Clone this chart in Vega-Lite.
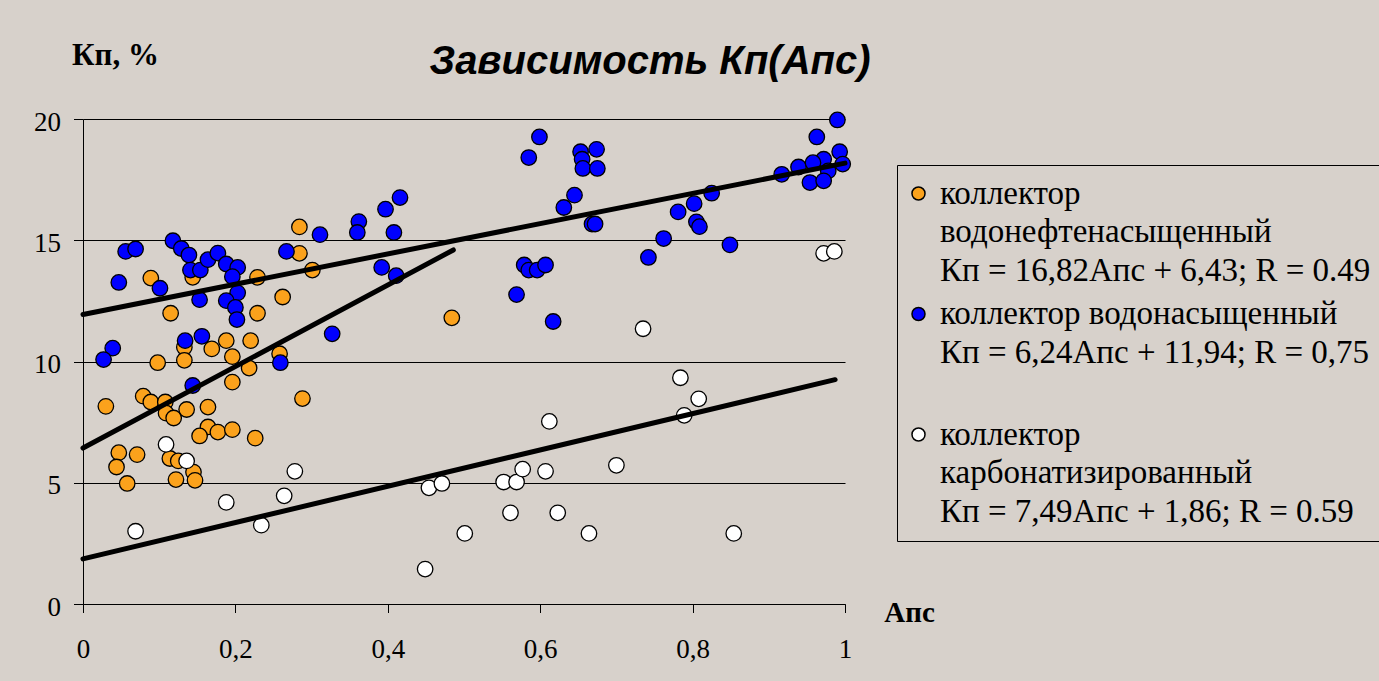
{
  "$schema": "https://vega.github.io/schema/vega-lite/v6.json",
  "width": 762,
  "height": 485,
  "autosize": {"type": "none"},
  "padding": {"left": 83, "top": 119, "right": 534, "bottom": 77},
  "background": "#d7d1cb",
  "title": {
    "text": "Зависимость Кп(Апс)",
    "font": "Liberation Sans",
    "fontSize": 40,
    "fontStyle": "italic",
    "fontWeight": "bold",
    "color": "black",
    "anchor": "middle",
    "frame": "group",
    "dx": 186,
    "dy": 43,
    "offset": 0
  },
  "datasets": {
    "pts": [
      {"t": "o", "x": 0.284, "y": 15.55}, {"t": "o", "x": 0.284, "y": 14.46}, {"t": "o", "x": 0.089, "y": 13.44},
      {"t": "o", "x": 0.144, "y": 13.47}, {"t": "o", "x": 0.229, "y": 13.47}, {"t": "o", "x": 0.301, "y": 13.77},
      {"t": "o", "x": 0.115, "y": 11.99}, {"t": "o", "x": 0.262, "y": 12.66}, {"t": "o", "x": 0.229, "y": 11.99},
      {"t": "o", "x": 0.133, "y": 10.59}, {"t": "o", "x": 0.169, "y": 10.52}, {"t": "o", "x": 0.188, "y": 10.86},
      {"t": "o", "x": 0.22, "y": 10.86}, {"t": "o", "x": 0.258, "y": 10.32}, {"t": "o", "x": 0.196, "y": 10.2},
      {"t": "o", "x": 0.098, "y": 9.95}, {"t": "o", "x": 0.133, "y": 10.05}, {"t": "o", "x": 0.218, "y": 9.73},
      {"t": "o", "x": 0.196, "y": 9.15}, {"t": "o", "x": 0.288, "y": 8.47}, {"t": "o", "x": 0.03, "y": 8.15},
      {"t": "o", "x": 0.079, "y": 8.57}, {"t": "o", "x": 0.089, "y": 8.33}, {"t": "o", "x": 0.108, "y": 8.33},
      {"t": "o", "x": 0.109, "y": 7.87}, {"t": "o", "x": 0.119, "y": 7.67}, {"t": "o", "x": 0.136, "y": 8.02},
      {"t": "o", "x": 0.164, "y": 8.12}, {"t": "o", "x": 0.164, "y": 7.3}, {"t": "o", "x": 0.153, "y": 6.93},
      {"t": "o", "x": 0.177, "y": 7.09}, {"t": "o", "x": 0.196, "y": 7.19}, {"t": "o", "x": 0.226, "y": 6.84},
      {"t": "o", "x": 0.047, "y": 6.24}, {"t": "o", "x": 0.071, "y": 6.16}, {"t": "o", "x": 0.044, "y": 5.65},
      {"t": "o", "x": 0.058, "y": 4.97}, {"t": "o", "x": 0.114, "y": 6.0}, {"t": "o", "x": 0.125, "y": 5.9},
      {"t": "o", "x": 0.145, "y": 5.44}, {"t": "o", "x": 0.122, "y": 5.13}, {"t": "o", "x": 0.147, "y": 5.1},
      {"t": "o", "x": 0.484, "y": 11.8},
      {"t": "b", "x": 0.056, "y": 14.54}, {"t": "b", "x": 0.069, "y": 14.64}, {"t": "b", "x": 0.118, "y": 14.98},
      {"t": "b", "x": 0.129, "y": 14.66}, {"t": "b", "x": 0.139, "y": 14.39}, {"t": "b", "x": 0.141, "y": 13.77},
      {"t": "b", "x": 0.154, "y": 13.77}, {"t": "b", "x": 0.164, "y": 14.2}, {"t": "b", "x": 0.177, "y": 14.47},
      {"t": "b", "x": 0.188, "y": 14.02}, {"t": "b", "x": 0.203, "y": 13.88}, {"t": "b", "x": 0.196, "y": 13.5},
      {"t": "b", "x": 0.203, "y": 12.83}, {"t": "b", "x": 0.188, "y": 12.51}, {"t": "b", "x": 0.2, "y": 12.23},
      {"t": "b", "x": 0.202, "y": 11.73}, {"t": "b", "x": 0.153, "y": 12.55}, {"t": "b", "x": 0.047, "y": 13.26},
      {"t": "b", "x": 0.101, "y": 13.02}, {"t": "b", "x": 0.267, "y": 14.54}, {"t": "b", "x": 0.311, "y": 15.23},
      {"t": "b", "x": 0.327, "y": 11.14}, {"t": "b", "x": 0.134, "y": 10.86}, {"t": "b", "x": 0.156, "y": 11.04},
      {"t": "b", "x": 0.039, "y": 10.55}, {"t": "b", "x": 0.027, "y": 10.08}, {"t": "b", "x": 0.259, "y": 9.95},
      {"t": "b", "x": 0.144, "y": 9.01},
      {"t": "b", "x": 0.362, "y": 15.77}, {"t": "b", "x": 0.36, "y": 15.32}, {"t": "b", "x": 0.397, "y": 16.28},
      {"t": "b", "x": 0.416, "y": 16.76}, {"t": "b", "x": 0.408, "y": 15.32}, {"t": "b", "x": 0.392, "y": 13.88},
      {"t": "b", "x": 0.411, "y": 13.54},
      {"t": "b", "x": 0.599, "y": 19.26}, {"t": "b", "x": 0.585, "y": 18.41}, {"t": "b", "x": 0.653, "y": 18.65},
      {"t": "b", "x": 0.674, "y": 18.75}, {"t": "b", "x": 0.655, "y": 18.34}, {"t": "b", "x": 0.656, "y": 17.96},
      {"t": "b", "x": 0.675, "y": 17.96}, {"t": "b", "x": 0.645, "y": 16.86}, {"t": "b", "x": 0.631, "y": 16.35},
      {"t": "b", "x": 0.668, "y": 15.67}, {"t": "b", "x": 0.672, "y": 15.67}, {"t": "b", "x": 0.579, "y": 13.98},
      {"t": "b", "x": 0.585, "y": 13.77}, {"t": "b", "x": 0.596, "y": 13.77}, {"t": "b", "x": 0.607, "y": 13.98},
      {"t": "b", "x": 0.569, "y": 12.76}, {"t": "b", "x": 0.617, "y": 11.65},
      {"t": "b", "x": 0.742, "y": 14.29}, {"t": "b", "x": 0.762, "y": 15.07}, {"t": "b", "x": 0.781, "y": 16.17},
      {"t": "b", "x": 0.802, "y": 16.51}, {"t": "b", "x": 0.805, "y": 15.76}, {"t": "b", "x": 0.809, "y": 15.56},
      {"t": "b", "x": 0.825, "y": 16.94}, {"t": "b", "x": 0.849, "y": 14.81}, {"t": "b", "x": 0.917, "y": 17.72},
      {"t": "b", "x": 0.939, "y": 18.02}, {"t": "b", "x": 0.963, "y": 19.26}, {"t": "b", "x": 0.99, "y": 19.96},
      {"t": "b", "x": 0.993, "y": 18.65}, {"t": "b", "x": 0.997, "y": 18.14}, {"t": "b", "x": 0.972, "y": 18.34},
      {"t": "b", "x": 0.958, "y": 18.2}, {"t": "b", "x": 0.978, "y": 17.86}, {"t": "b", "x": 0.954, "y": 17.38},
      {"t": "b", "x": 0.972, "y": 17.45},
      {"t": "w", "x": 0.069, "y": 3.0}, {"t": "w", "x": 0.109, "y": 6.58}, {"t": "w", "x": 0.136, "y": 5.9},
      {"t": "w", "x": 0.188, "y": 4.19}, {"t": "w", "x": 0.234, "y": 3.25}, {"t": "w", "x": 0.264, "y": 4.46},
      {"t": "w", "x": 0.278, "y": 5.47}, {"t": "w", "x": 0.612, "y": 7.53}, {"t": "w", "x": 0.454, "y": 4.79},
      {"t": "w", "x": 0.471, "y": 4.97}, {"t": "w", "x": 0.449, "y": 1.44}, {"t": "w", "x": 0.501, "y": 2.91},
      {"t": "w", "x": 0.552, "y": 5.03}, {"t": "w", "x": 0.569, "y": 5.03}, {"t": "w", "x": 0.577, "y": 5.56},
      {"t": "w", "x": 0.607, "y": 5.47}, {"t": "w", "x": 0.561, "y": 3.76}, {"t": "w", "x": 0.623, "y": 3.76},
      {"t": "w", "x": 0.735, "y": 11.35}, {"t": "w", "x": 0.784, "y": 9.33}, {"t": "w", "x": 0.808, "y": 8.46},
      {"t": "w", "x": 0.789, "y": 7.78}, {"t": "w", "x": 0.7, "y": 5.72}, {"t": "w", "x": 0.664, "y": 2.91},
      {"t": "w", "x": 0.854, "y": 2.91}, {"t": "w", "x": 0.972, "y": 14.46}, {"t": "w", "x": 0.986, "y": 14.54}
    ],
    "trend": [
      {"s": "o", "x": 0, "y": 6.43}, {"s": "o", "x": 0.486, "y": 14.6},
      {"s": "b", "x": 0, "y": 11.94}, {"s": "b", "x": 1, "y": 18.18},
      {"s": "w", "x": 0, "y": 1.86}, {"s": "w", "x": 0.987, "y": 9.25}
    ]
  },
  "encoding": {
    "x": {
      "field": "x", "type": "quantitative",
      "scale": {"domain": [0, 1], "nice": false, "zero": false},
      "axis": {
        "values": [0, 0.2, 0.4, 0.6, 0.8, 1],
        "grid": false,
        "tickSize": 8.5,
        "labelPadding": 24,
        "labelFlush": false,
        "labelExpr": "datum.value == 0 ? '0' : datum.value == 1 ? '1' : replace(format(datum.value, '.1f'), '.', ',')",
        "title": "Апс",
        "titleAngle": 0,
        "titleX": 826,
        "titleY": 8,
        "titleAlign": "center",
        "titleBaseline": "middle"
      }
    },
    "y": {
      "field": "y", "type": "quantitative",
      "scale": {"domain": [0, 20], "nice": false},
      "axis": {
        "values": [0, 5, 10, 15, 20],
        "grid": true,
        "tickSize": 9.5,
        "labelPadding": 13,
        "labelOffset": 3,
        "labelFlush": false,
        "title": "Кп, %",
        "titleAngle": 0,
        "titleX": 32,
        "titleY": -64,
        "titleAlign": "center",
        "titleBaseline": "middle",
        "titleFontSize": 31
      }
    }
  },
  "layer": [
    {
      "data": {"name": "pts"},
      "mark": {"type": "point", "shape": "circle", "filled": true, "size": 240, "stroke": "black", "strokeWidth": 1.3, "opacity": 1},
      "encoding": {
        "color": {
          "field": "t", "type": "nominal",
          "scale": {"domain": ["o", "b", "w"], "range": ["#fba21c", "#0000ff", "#ffffff"]},
          "legend": {
            "orient": "none",
            "legendX": 814,
            "legendY": 46,
            "title": null,
            "labelExpr": "datum.value == 'o' ? ['коллектор', 'водонефтенасыщенный', 'Кп = 16,82Апс + 6,43; R = 0.49'] : datum.value == 'b' ? ['коллектор водонасыщенный', 'Кп = 6,24Апс + 11,94; R = 0,75', ''] : ['коллектор', 'карбонатизированный', 'Кп = 7,49Апс + 1,86; R = 0.59']"
          }
        }
      }
    },
    {
      "data": {"name": "trend"},
      "mark": {"type": "line", "color": "black", "strokeWidth": 5, "strokeCap": "round"},
      "encoding": {
        "detail": {"field": "s", "type": "nominal"}
      }
    }
  ],
  "config": {
    "view": {"stroke": null},
    "style": {"guide-label": {"lineHeight": 38.5}},
    "axis": {
      "domainColor": "black",
      "tickColor": "black",
      "gridColor": "black",
      "gridOpacity": 1,
      "labelColor": "black",
      "titleColor": "black",
      "labelFont": "Times New Roman, Liberation Serif, DejaVu Serif, serif",
      "labelFontSize": 27,
      "titleFont": "Times New Roman, Liberation Serif, DejaVu Serif, serif",
      "titleFontSize": 29,
      "titleFontWeight": "bold",
      "domainWidth": 1,
      "tickWidth": 1,
      "gridWidth": 1
    },
    "legend": {
      "strokeColor": "black",
      "fillColor": "#d7d1cb",
      "padding": 12,
      "labelFont": "Times New Roman, Liberation Serif, DejaVu Serif, serif",
      "labelFontSize": 33,
      "labelColor": "black",
      "labelLimit": 700,
      "labelOffset": 5,
      "labelBaseline": "middle",
      "symbolSize": 170,
      "symbolType": "circle",
      "symbolOffset": -7,
      "symbolStrokeColor": "black",
      "symbolStrokeWidth": 1.5,
      "symbolOpacity": 1,
      "rowPadding": 9.5
    }
  }
}
